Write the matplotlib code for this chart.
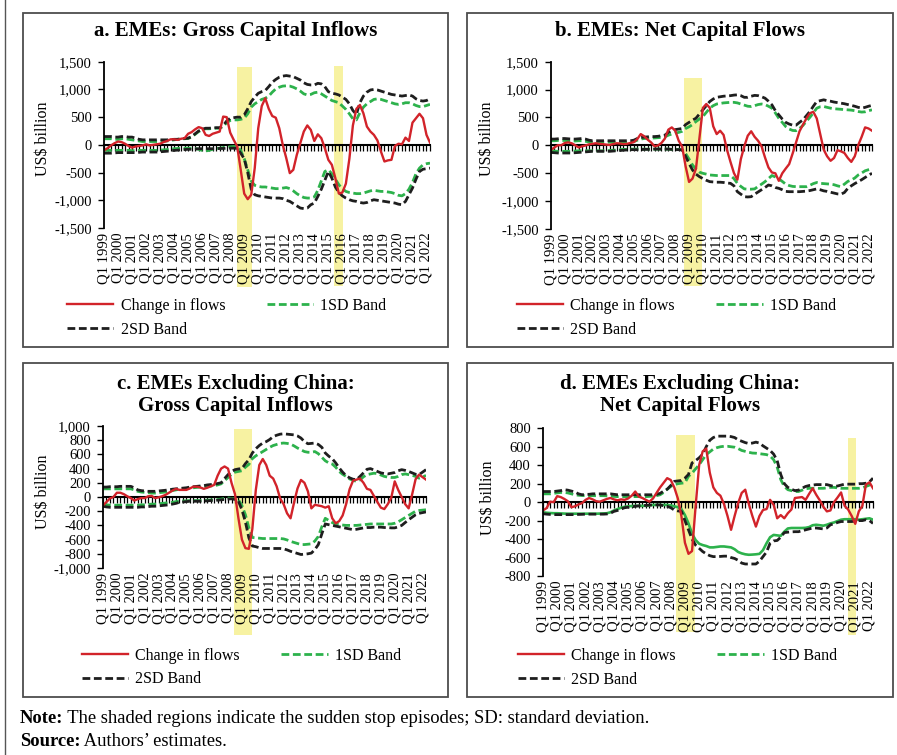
import numpy as np
import matplotlib.pyplot as plt
import matplotlib.transforms as mtransforms
from matplotlib.patches import Rectangle
from matplotlib.lines import Line2D
from matplotlib.text import Annotation
from matplotlib.ticker import StrMethodFormatter

plt.rcParams['font.family'] = ['Liberation Serif', 'DejaVu Serif']
plt.rcParams['axes.unicode_minus'] = False

# quarters Q1 1999 .. Q2 2022
quarters = np.arange(94)
years = list(range(1999, 2023))
year_labels = [f"Q1 {y}" for y in years]

# ---- a. EMEs: gross capital inflows (US$ billion)
a_flow = [
    -100, -60, -10, 30, 60, 50, 20, -20, -50, -30, -20, -10,
    10, -10, 0, 10, 20, 50, 70, 100, 100, 90, 110, 120,
    200, 230, 280, 320, 300, 180, 160, 200, 220, 240, 510, 500,
    220, 90, -30, -450, -880, -980, -900, -420, 300, 700, 840, 650,
    520, 490, 300, 0, -240, -510, -450, -180, 30, 240, 350, 270,
    70, 190, 120, -60, -270, -360, -600, -880, -860, -700, -250, 350,
    650, 720, 570, 330, 240, 180, 80, -120, -300, -280, -270, -20,
    20, 10, 130, 70, 400, 480, 560, 480, 180, 40]
a_sd2_up = [
    150, 150, 150, 140, 140, 150, 150, 140, 140, 120, 100, 90,
    90, 90, 90, 90, 90, 90, 90, 95, 100, 100, 110, 115,
    120, 150, 200, 250, 280, 300, 300, 305, 310, 310, 350, 430,
    480, 490, 500, 500, 540, 650, 780, 860, 930, 960, 980, 1050,
    1130, 1180, 1220, 1240, 1250, 1240, 1230, 1200, 1170, 1120, 1090, 1080,
    1080, 1110, 1100, 1050, 960, 930, 920, 900, 860, 820, 740, 620,
    550, 760, 880, 950, 990, 1000, 990, 970, 950, 930, 910, 900,
    890, 880, 890, 900, 880, 830, 800, 790, 800, 830]
a_sd1_up = [
    110, 110, 110, 100, 100, 110, 110, 100, 90, 80, 70, 60,
    60, 60, 60, 60, 60, 65, 70, 80, 90, 100, 105, 110,
    115, 140, 190, 240, 270, 290, 290, 295, 300, 300, 330, 400,
    440, 450, 450, 460, 480, 560, 680, 740, 780, 820, 840, 880,
    950, 1010, 1040, 1060, 1065, 1060, 1040, 1010, 970, 920, 900, 910,
    940, 950, 920, 880, 840, 800, 780, 760, 700, 640, 560, 470,
    450, 580, 680, 740, 780, 820, 830, 820, 800, 780, 760, 740,
    730, 740, 760, 760, 740, 710, 690, 690, 710, 730]
a_sd1_lo = [
    -100, -100, -100, -100, -100, -100, -100, -100, -105, -105, -100, -100,
    -100, -100, -100, -100, -95, -90, -85, -80, -70, -65, -60, -60,
    -60, -60, -65, -80, -100, -110, -100, -80, -70, -60, -50, -40,
    -35, -30, -30, -100, -250, -450, -650, -730, -750, -760, -760, -770,
    -780, -790, -790, -780, -770, -790, -830, -880, -920, -950, -960, -960,
    -940, -820, -650, -480, -450, -520, -620, -720, -790, -840, -860, -870,
    -880, -880, -870, -850, -830, -820, -830, -840, -840, -850, -860, -880,
    -910, -920, -880, -800, -680, -520, -420, -360, -340, -330]
a_sd2_lo = [
    -150, -150, -150, -145, -140, -140, -140, -140, -140, -140, -135, -130,
    -130, -130, -130, -130, -125, -120, -115, -110, -100, -95, -90, -85,
    -80, -80, -75, -70, -70, -70, -70, -70, -70, -65, -65, -60,
    -60, -60, -65, -150, -250, -500, -800, -900, -920, -930, -940, -950,
    -960, -960, -960, -970, -1000, -1020, -1060, -1100, -1140, -1150, -1140, -1080,
    -1050, -930, -800, -640, -480, -600, -760, -860, -920, -960, -990, -1010,
    -1020, -1040, -1050, -1040, -1010, -990, -1000, -1010, -1020, -1030, -1040, -1050,
    -1070, -1080, -1020, -900, -780, -620, -480, -440, -430, -420]
a_episodes = [(38.0, 42.2), (65.5, 68.2)]

# ---- b. EMEs: net capital flows
b_flow = [
    -85, -40, 0, 0, 40, 50, 35, 0, -40, -20, -5, 15,
    25, 35, 25, 20, 10, 5, 20, 35, 30, 20, 25, 40,
    55, 110, 200, 160, 100, 50, -20, -5, 40, 120, 280, 320,
    260, 80, -25, -380, -660, -600, -420, 125, 670, 740, 670, 340,
    200, 260, 185, -85, -300, -500, -620, -250, -20, 170, 250, 150,
    80, -20, -220, -400, -490, -505, -640, -505, -420, -340, -150, 50,
    250, 370, 480, 575, 600, 480, 200, -80, -200, -280, -230, -90,
    -110, -140, -230, -300, -200, 0, 150, 320, 300, 260]
b_sd2_up = [
    110, 110, 115, 120, 120, 115, 110, 110, 115, 120, 110, 90,
    80, 80, 80, 80, 80, 80, 80, 80, 80, 80, 80, 80,
    90, 120, 140, 145, 150, 155, 155, 160, 170, 180, 230, 260,
    280, 290, 300, 370, 410, 450, 485, 560, 635, 710, 785, 830,
    860, 870, 880, 885, 890, 900, 905, 890, 860, 860, 880, 895,
    890, 870, 845, 790, 725, 620, 545, 470, 410, 380, 360, 360,
    410, 455, 530, 605, 700, 785, 800, 815, 800, 790, 775, 765,
    755, 745, 730, 715, 700, 680, 665, 680, 700, 715]
b_sd1_up = [
    80, 80, 85, 85, 85, 80, 80, 75, 80, 80, 70, 60,
    55, 55, 55, 55, 55, 55, 55, 55, 55, 55, 55, 55,
    65, 90, 110, 120, 125, 130, 130, 135, 140, 150, 180, 200,
    220, 230, 250, 300, 330, 370, 425, 470, 515, 590, 665, 710,
    740, 750, 760, 765, 770, 770, 760, 740, 720, 700, 695, 710,
    730, 740, 730, 700, 665, 580, 485, 410, 335, 290, 265, 260,
    300, 355, 430, 500, 580, 665, 690, 695, 680, 665, 655, 650,
    645, 640, 635, 630, 620, 605, 595, 600, 620, 635]
b_sd1_lo = [
    -100, -105, -110, -110, -110, -110, -110, -105, -100, -100, -100, -100,
    -100, -100, -100, -100, -100, -95, -90, -85, -80, -75, -75, -70,
    -70, -70, -70, -70, -70, -70, -70, -70, -70, -70, -70, -75,
    -75, -75, -80, -150, -250, -355, -430, -485, -505, -520, -535, -540,
    -545, -545, -545, -545, -545, -600, -685, -740, -785, -790, -790, -785,
    -740, -700, -655, -600, -545, -570, -605, -650, -700, -725, -740, -745,
    -745, -745, -745, -720, -690, -670, -685, -690, -695, -700, -710, -730,
    -745, -700, -650, -625, -590, -535, -500, -460, -440, -425]
b_sd2_lo = [
    -130, -135, -140, -140, -140, -140, -140, -135, -130, -125, -120, -115,
    -110, -110, -110, -110, -110, -110, -105, -100, -95, -90, -85, -80,
    -80, -80, -80, -75, -75, -75, -70, -70, -70, -70, -70, -75,
    -80, -80, -85, -200, -330, -445, -520, -565, -600, -630, -655, -660,
    -665, -665, -670, -680, -685, -730, -835, -880, -925, -930, -925, -880,
    -840, -800, -760, -715, -730, -760, -775, -800, -830, -835, -835, -835,
    -835, -830, -825, -815, -800, -785, -800, -820, -830, -845, -860, -875,
    -880, -850, -775, -730, -690, -655, -620, -580, -540, -505]
b_episodes = [(38.6, 43.8)]

# ---- c. EMEs excluding China: gross capital inflows
c_flow = [
    -117, -70, -20, 0, 60, 60, 40, 10, -15, -50, -30, -15,
    -15, 10, 15, -15, -5, 10, 30, 60, 90, 115, 100, 100,
    100, 120, 145, 145, 135, 115, 130, 150, 170, 300, 400, 430,
    400, 200, 40, -300, -600, -720, -730, -450, 100, 450, 535, 450,
    300, 260, 150, -20, -100, -230, -300, -80, 120, 240, 200, 80,
    -160, -110, -120, -130, -150, -130, -300, -370, -340, -260, -100, 110,
    230, 245, 260, 200, 115, 100, 15, -70, -150, -170, -100, -10,
    220, 100, 0, -100, -160, 35, 250, 315, 280, 245]
c_sd2_up = [
    140, 140, 145, 145, 145, 150, 150, 150, 150, 130, 100, 90,
    85, 80, 80, 80, 85, 90, 95, 100, 110, 115, 120, 125,
    130, 140, 145, 150, 155, 160, 170, 175, 180, 190, 200, 260,
    315, 360, 385, 395, 400, 470, 525, 620, 680, 725, 760, 780,
    810, 850, 870, 885, 890, 885, 880, 875, 860, 830, 780, 750,
    755, 760, 740, 700, 620, 575, 540, 480, 410, 350, 300, 270,
    250, 245, 290, 340, 390, 400, 380, 360, 340, 330, 325, 335,
    345, 370, 385, 375, 360, 340, 320, 315, 350, 385]
c_sd1_up = [
    115, 115, 115, 115, 115, 115, 115, 115, 115, 100, 80, 70,
    65, 60, 55, 55, 60, 65, 70, 80, 90, 100, 110, 115,
    120, 125, 130, 135, 140, 145, 150, 155, 160, 170, 185, 230,
    275, 320, 350, 360, 370, 420, 460, 540, 580, 610, 640, 670,
    700, 725, 740, 755, 760, 755, 745, 720, 690, 665, 640, 630,
    630, 640, 610, 560, 510, 480, 465, 420, 360, 320, 290, 255,
    235, 220, 240, 285, 315, 325, 335, 330, 310, 290, 280, 275,
    275, 290, 315, 325, 315, 305, 290, 265, 280, 305]
c_sd1_lo = [
    -100, -110, -115, -115, -115, -115, -115, -115, -115, -115, -115, -110,
    -110, -105, -100, -100, -95, -90, -85, -80, -75, -65, -60, -55,
    -55, -50, -50, -50, -50, -45, -45, -40, -40, -35, -30, -20,
    -15, -20, -25, -40, -120, -250, -435, -570, -575, -580, -585, -585,
    -585, -585, -585, -585, -590, -605, -625, -640, -655, -670, -670, -665,
    -660, -620, -555, -420, -300, -330, -360, -380, -390, -395, -400, -400,
    -400, -400, -395, -390, -385, -380, -380, -380, -380, -380, -380, -380,
    -370, -350, -320, -290, -260, -230, -200, -190, -185, -180]
c_sd2_lo = [
    -130, -140, -145, -145, -145, -145, -145, -145, -145, -145, -145, -140,
    -140, -135, -130, -130, -125, -120, -115, -110, -100, -90, -75, -70,
    -65, -60, -60, -60, -60, -55, -55, -50, -50, -45, -40, -35,
    -30, -25, -35, -60, -180, -350, -575, -690, -700, -715, -725, -725,
    -725, -725, -725, -725, -730, -745, -765, -780, -795, -810, -805, -800,
    -790, -740, -670, -520, -380, -390, -400, -410, -420, -430, -440, -450,
    -460, -455, -445, -435, -430, -430, -425, -425, -425, -430, -430, -435,
    -435, -420, -400, -360, -320, -285, -250, -230, -220, -210]
c_episodes = [(37.7, 42.9)]

# ---- d. EMEs excluding China: net capital flows
d_flow = [
    -90, -65, 5, 0, 65, 55, 35, 10, -55, -45, -25, -10,
    25, 45, 30, 10, 5, 20, 35, 45, 30, 20, 30, 25,
    40, 70, 115, 60, 45, 25, 5, 40, 100, 160, 210, 260,
    240, 160, 40, -150, -440, -560, -530, -50, 400, 550, 580, 320,
    160, 100, 70, -20, -150, -300, -150, -10, 100, 135, -20, -150,
    -265, -150, -85, -75, 25, -30, -175, -140, -175, -120, -80, 45,
    50, 55, 25, 90, 150, 80, 20, -50, -100, -90, 0, 50,
    105, -40, -80, -150, -235, -100, -40, 190, 215, 150]
d_sd2_up = [
    115, 115, 115, 115, 120, 125, 135, 130, 120, 110, 90, 80,
    85, 85, 90, 90, 90, 90, 90, 90, 85, 80, 80, 80,
    80, 80, 80, 80, 80, 80, 80, 80, 85, 95, 120, 140,
    180, 225, 230, 235, 260, 300, 425, 450, 480, 520, 600, 670,
    700, 715, 715, 715, 715, 710, 700, 675, 660, 645, 635, 640,
    650, 640, 610, 585, 560, 520, 450, 300, 200, 160, 140, 125,
    130, 150, 170, 180, 185, 190, 190, 190, 190, 180, 170, 175,
    185, 195, 195, 195, 195, 200, 200, 205, 220, 260]
d_sd1_up = [
    90, 90, 90, 95, 100, 105, 105, 100, 90, 80, 75, 72,
    70, 70, 70, 70, 70, 70, 68, 65, 62, 60, 60, 60,
    60, 60, 60, 60, 60, 60, 62, 65, 70, 80, 105, 140,
    170, 190, 200, 205, 210, 280, 315, 360, 405, 460, 515, 545,
    575, 590, 600, 605, 605, 600, 595, 580, 560, 550, 540, 532,
    530, 525, 520, 515, 500, 460, 380, 245, 170, 135, 125, 115,
    115, 130, 145, 150, 150, 150, 150, 150, 155, 160, 160, 155,
    150, 150, 150, 150, 150, 150, 155, 170, 185, 205]
d_sd1_lo = [
    -110, -115, -118, -120, -120, -122, -124, -125, -125, -125, -125, -125,
    -125, -125, -125, -125, -124, -122, -120, -110, -90, -75, -60, -50,
    -45, -42, -40, -40, -40, -40, -35, -30, -30, -30, -30, -30,
    -35, -45, -55, -75, -140, -230, -340, -410, -450, -465, -475, -490,
    -490, -485, -480, -480, -485, -490, -510, -540, -555, -565, -570, -568,
    -565, -560, -520, -445, -380, -355, -360, -365, -320, -285, -280, -280,
    -280, -280, -278, -270, -250, -245, -250, -255, -245, -230, -220, -205,
    -190, -185, -185, -185, -185, -190, -185, -180, -175, -190]
d_sd2_lo = [
    -125, -130, -133, -135, -135, -135, -135, -135, -135, -135, -133, -132,
    -130, -130, -130, -130, -130, -130, -128, -120, -100, -90, -75, -60,
    -55, -50, -45, -40, -38, -35, -32, -30, -30, -30, -40, -45,
    -60, -85, -95, -100, -200, -300, -400, -465, -500, -535, -560, -580,
    -590, -590, -588, -585, -585, -600, -610, -630, -660, -670, -670, -670,
    -670, -640, -590, -540, -445, -420, -415, -380, -330, -325, -322, -320,
    -320, -310, -300, -290, -280, -280, -285, -290, -280, -245, -235, -220,
    -210, -210, -210, -210, -205, -200, -200, -190, -200, -230]
d_episodes = [(37.4, 42.7), (85.9, 88.3)]

titles = ["a. EMEs: Gross Capital Inflows",
          "b. EMEs: Net Capital Flows",
          "c. EMEs Excluding China:\nGross Capital Inflows",
          "d. EMEs Excluding China:\nNet Capital Flows"]
y_ranges = [(-1500, 1500, 500), (-1500, 1500, 500),
            (-1000, 1000, 200), (-800, 800, 200)]
legend_labels = ["Change in flows", "2SD Band", "1SD Band"]

RED = "#d2232a"
GREEN = "#2db24c"
BLACK = "#1e1e1e"
YELLOW = "#f7f2a2"
DASH = (2.8, 1.3)

W, H = 897, 755
fig = plt.figure(figsize=(W / 100, H / 100), dpi=100)


def fx(x):
    return x / W


def fy(y):
    return 1 - y / H


# layout in pixels (from top-left)
layout = [
    dict(box=(23, 13, 448, 347), axes=(104, 61.7, 430, 228), title_top=21,
         ylabel=(43, 139), legend=(67, 298), shade=[(-0.355, 0.968), (-0.349, 0.974)]),
    dict(box=(467, 13, 893, 347), axes=(551, 61.7, 872, 228.7), title_top=21,
         ylabel=(487.5, 139), legend=(516.7, 298), shade=[(-0.343, 0.902)]),
    dict(box=(23, 363, 448, 697), axes=(103, 426, 426, 568), title_top=374,
         ylabel=(43.3, 492), legend=(81.7, 647.5), shade=[(-0.472, 0.979)]),
    dict(box=(467, 363, 893, 697), axes=(543, 428.3, 873, 576), title_top=374,
         ylabel=(487.7, 497.5), legend=(517.7, 648), shade=[(-0.379, 0.955), (-0.399, 0.934)]),
]

series = [
    (a_flow, a_sd1_up, a_sd1_lo, a_sd2_up, a_sd2_lo, a_episodes),
    (b_flow, b_sd1_up, b_sd1_lo, b_sd2_up, b_sd2_lo, b_episodes),
    (c_flow, c_sd1_up, c_sd1_lo, c_sd2_up, c_sd2_lo, c_episodes),
    (d_flow, d_sd1_up, d_sd1_lo, d_sd2_up, d_sd2_lo, d_episodes),
]

for k, (lay, data) in enumerate(zip(layout, series)):
    flow, sd1_up, sd1_lo, sd2_up, sd2_lo, episodes = data
    lo, hi, step = y_ranges[k]

    # panel frame
    bx0, by0, bx1, by1 = lay["box"]
    fig.patches.append(Rectangle((fx(bx0), fy(by1)), fx(bx1 - bx0), (by1 - by0) / H,
                                 transform=fig.transFigure, fill=False,
                                 ec="#4d4d4d", lw=1.3))

    l, t, r, b = lay["axes"]
    ax = fig.add_axes([fx(l), fy(b), fx(r - l), (b - t) / H])
    ax.set_facecolor("none")
    ax.set_xlim(0, len(quarters) - 1)
    ax.set_ylim(lo, hi)

    # sudden stop episodes
    trans = mtransforms.blended_transform_factory(ax.transData, ax.transAxes)
    for (x0, x1), (s0, s1) in zip(episodes, lay["shade"]):
        ax.add_patch(Rectangle((x0, s0), x1 - x0, s1 - s0, transform=trans,
                               fc=YELLOW, lw=0, clip_on=False, zorder=0))

    sd1_line, = ax.plot(quarters, sd1_up, color=GREEN, lw=2, dashes=DASH)
    if k == 3:
        ax.plot(quarters, sd1_lo, color=GREEN, lw=1.9)
    else:
        ax.plot(quarters, sd1_lo, color=GREEN, lw=2, dashes=DASH)
    sd2_line, = ax.plot(quarters, sd2_up, color=BLACK, lw=2, dashes=DASH)
    ax.plot(quarters, sd2_lo, color=BLACK, lw=2, dashes=DASH)
    flow_line, = ax.plot(quarters, flow, color=RED, lw=1.7)

    for s in ("top", "right", "bottom"):
        ax.spines[s].set_visible(False)
    ax.spines["left"].set_linewidth(1.3)
    ax.set_yticks(np.arange(lo, hi + 1, step))
    ax.yaxis.set_major_formatter(StrMethodFormatter("{x:,.0f}"))
    ax.tick_params(axis="y", length=4.3, width=1, pad=4.5, labelsize=10.5)
    ax.set_xticks(quarters[::4], year_labels, rotation=90)
    ax.tick_params(axis="x", length=0, pad=3.5, labelsize=10.5)

    # horizontal axis crossing at zero with quarterly tick marks
    zero = ax.secondary_xaxis(0.5)
    zero.set_alignment("bottom")
    zero.set_xticks(quarters)
    zero.tick_params(direction="out", length=4, width=0.9, labelbottom=False)
    zero.spines["bottom"].set_linewidth(1.5)

    ylx, yly = lay["ylabel"]
    ax.set_ylabel("US$ billion", fontsize=11.5, va="center")
    ax.yaxis.set_label_coords((ylx - l) / (r - l), (b - yly) / (b - t))

    fig.text(fx((bx0 + bx1) / 2), fy(lay["title_top"]), titles[k], ha="center",
             va="top", fontsize=15, fontweight="bold", linespacing=1.12)

    lgx, lgy = lay["legend"]
    fig.legend([flow_line, sd2_line, sd1_line], legend_labels, loc="upper left",
               bbox_to_anchor=(fx(lgx), fy(lgy)), ncol=2, frameon=False,
               fontsize=11.5, handlelength=2.9, handletextpad=0.45,
               columnspacing=2.6, labelspacing=0.49, borderpad=0, borderaxespad=0)

# page margin line on the left
fig.add_artist(Line2D([fx(5), fx(5)], [0, 1], transform=fig.transFigure,
                      color="#555555", lw=1))

# note and source lines: bold lead-in followed by regular text
for head, rest, y in (("Note:", " The shaded regions indicate the sudden stop episodes; SD: standard deviation.", 727),
                      ("Source:", " Authors\u2019 estimates.", 750)):
    lead = fig.text(fx(20), fy(y), head, fontsize=13.4, fontweight="bold", va="bottom")
    fig.add_artist(Annotation(rest, xy=(1, 0), xycoords=lead, fontsize=13.4,
                              ha="left", va="bottom"))

fig.savefig("out.png", dpi=100)
